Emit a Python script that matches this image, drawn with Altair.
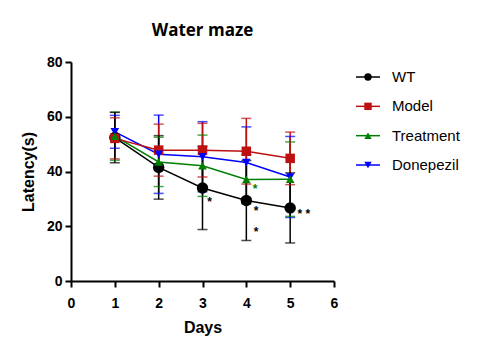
import altair as alt
import pandas as pd

days = [1, 2, 3, 4, 5]
groups = ["WT", "Model", "Treatment", "Donepezil"]
colors = ["#000000", "#BE1010", "#008000", "#0000FF"]
shapes = ["circle", "square", "triangle-up", "triangle-down"]

wt_mean = [52.4, 41.5, 34.0, 29.4, 26.7]
wt_sd = [9.2, 11.6, 15.2, 14.6, 12.8]
model_mean = [52.1, 47.8, 47.8, 47.4, 44.8]
model_sd = [7.5, 9.5, 9.8, 12.0, 9.6]
treat_mean = [52.9, 43.5, 42.1, 37.1, 37.2]
treat_sd = [8.8, 9.0, 11.2, 9.0, 13.6]
done_mean = [54.5, 46.3, 45.4, 43.3, 38.0]
done_sd = [6.0, 14.3, 12.8, 13.0, 14.8]

star_x = [3.16, 4.22, 4.22, 4.2, 5.31]
star_y = [29.9, 26.5, 18.9, 34.8, 25.6]
star_text = ["*", "*", "*", "*", "* *"]
star_group = ["WT", "WT", "WT", "Treatment", "WT"]

means = {"WT": wt_mean, "Model": model_mean, "Treatment": treat_mean, "Donepezil": done_mean}
sds = {"WT": wt_sd, "Model": model_sd, "Treatment": treat_sd, "Donepezil": done_sd}

rows = []
for g in ["Donepezil", "Treatment", "Model", "WT"]:
    for d, m, s in zip(days, means[g], sds[g]):
        rows.append({"group": g, "day": d, "mean": m, "lo": m - s, "hi": m + s})
df = pd.DataFrame(rows)

stars = pd.DataFrame({"x": star_x, "y": star_y, "text": star_text, "group": star_group})
leg = pd.DataFrame({"group": groups})

color = alt.Color("group:N", scale=alt.Scale(domain=groups, range=colors), legend=None)
shape = alt.Shape("group:N", scale=alt.Scale(domain=groups, range=shapes), legend=None)

X = alt.X("day:Q", title="Days",
          scale=alt.Scale(domain=[0, 6], nice=False),
          axis=alt.Axis(values=[0, 1, 2, 3, 4, 5, 6], format="d"))
Y = alt.Y("mean:Q", title="Latency(s)",
          scale=alt.Scale(domain=[0, 80], nice=False),
          axis=alt.Axis(values=[0, 20, 40, 60, 80]))

base = alt.Chart(df)

rules = base.mark_rule(strokeWidth=1.5).encode(x=X, y=alt.Y("lo:Q"), y2="hi:Q", color=color)
cap_hi = base.mark_tick(orient="horizontal", size=10, thickness=1.5).encode(x=X, y=alt.Y("hi:Q"), color=color)
cap_lo = base.mark_tick(orient="horizontal", size=10, thickness=1.5).encode(x=X, y=alt.Y("lo:Q"), color=color)
lines = base.mark_line(strokeWidth=1.5).encode(x=X, y=Y, color=color, detail="group:N")
pts_c = base.transform_filter(alt.datum.group == "WT").mark_point(filled=True, opacity=1, size=130).encode(x=X, y=Y, color=color, shape=shape)
pts_s = base.transform_filter(alt.datum.group == "Model").mark_point(filled=True, opacity=1, size=90).encode(x=X, y=Y, color=color, shape=shape)
pts_t = base.transform_filter((alt.datum.group == "Treatment") | (alt.datum.group == "Donepezil")).mark_point(filled=True, opacity=1, size=75).encode(x=X, y=Y, color=color, shape=shape)

star_layer = alt.Chart(stars).mark_text(fontSize=12, fontWeight="bold", align="center", baseline="middle", dy=3, font="Liberation Sans").encode(
    x=alt.X("x:Q"), y=alt.Y("y:Q"), text="text:N", color=color)

plot = alt.layer(rules, cap_hi, cap_lo, lines, pts_c, pts_s, pts_t, star_layer)

LY = alt.Y("group:N", sort=groups, scale=alt.Scale(type="point", domain=groups, range=[15, 103], padding=0), axis=None)
leg_base = alt.Chart(leg)
leg_rule = leg_base.mark_rule(strokeWidth=1.5).encode(x=alt.value(285), x2=alt.value(309), y=LY, color=color)
leg_pt = leg_base.mark_point(filled=True, opacity=1, size=55).encode(x=alt.value(297), y=LY, color=color, shape=shape)
leg_txt = leg_base.mark_text(align="left", baseline="middle", fontSize=15, font="Liberation Sans", color="black").encode(
    x=alt.value(321), y=LY, text="group:N")
legend = alt.layer(leg_rule, leg_pt, leg_txt)

chart = alt.layer(plot, legend).resolve_scale(y="independent").properties(
    width=263, height=219,
    title=alt.TitleParams("Water maze", fontSize=17, fontWeight="bold", font="Open Sans", anchor="middle", offset=15, color="black"),
    padding={"left": 12, "top": 14, "right": 5, "bottom": 5},
).configure_view(stroke=None).configure_axis(
    grid=False, domainColor="black", domainWidth=2, tickColor="black", tickWidth=2, tickSize=6,
    labelFont="Liberation Sans", labelFontWeight="bold", labelFontSize=14, labelColor="black", labelPadding=3,
    titleFont="Liberation Sans", titleFontWeight="bold", titleFontSize=16, titleColor="black",
).configure_axisY(titlePadding=10).configure_axisX(titlePadding=9, labelPadding=9, labelFlush=False)

chart.save("out.html", embed_options={"renderer": "svg", "actions": False})
